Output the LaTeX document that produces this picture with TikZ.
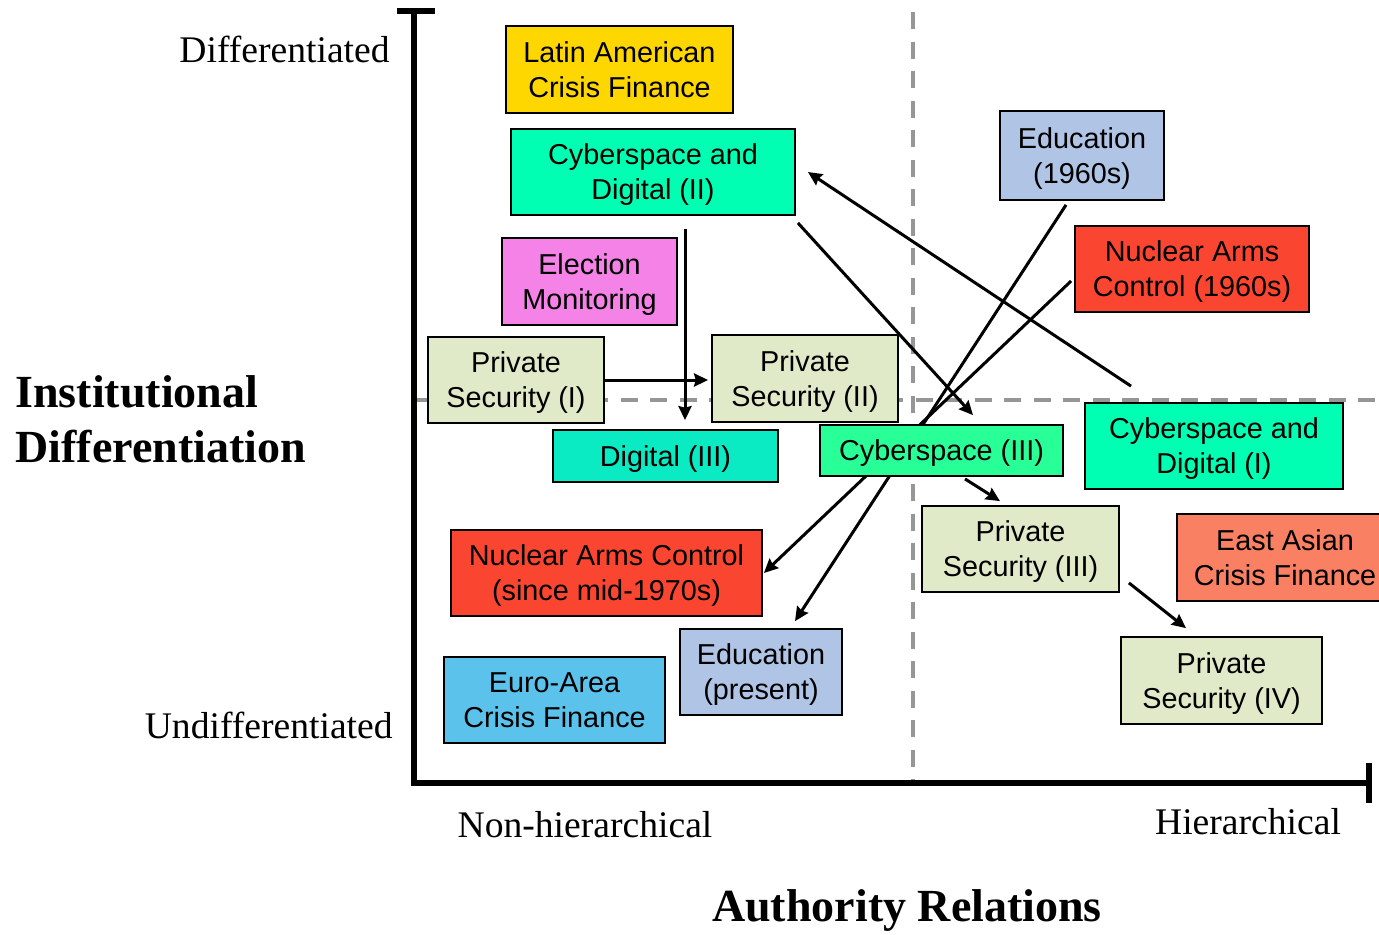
\documentclass[tikz,border=0pt]{standalone}
\usepackage{fontspec}
\setmainfont{Liberation Serif}
\newfontfamily\boxfont{Liberation Sans}
\usetikzlibrary{arrows.meta,calc,backgrounds}
\definecolor{cgold}{RGB}{255,215,0}
\definecolor{cspring}{RGB}{0,255,178}
\definecolor{cspringb}{RGB}{40,255,150}
\definecolor{cteal}{RGB}{10,235,195}
\definecolor{cpink}{RGB}{245,130,230}
\definecolor{cpale}{RGB}{224,233,200}
\definecolor{cblue}{RGB}{176,196,230}
\definecolor{cred}{RGB}{250,70,48}
\definecolor{csalmon}{RGB}{250,128,100}
\definecolor{csky}{RGB}{91,195,235}
\definecolor{cdash}{RGB}{150,150,150}
\begin{document}
\begin{tikzpicture}[x=0.5pt,y=-0.5pt,
  box/.style={draw=black, line width=0.9pt, inner sep=0pt, align=center, text depth=0pt,
    font=\boxfont\fontsize{14.4}{17.5}\selectfont},
  lbl/.style={inner sep=0pt, font=\fontsize{18.8}{22}\selectfont},
  ttl/.style={inner sep=0pt, align=left, font=\bfseries\fontsize{23}{27.5}\selectfont},
  axis/.style={line width=2.6pt, line cap=butt},
  guide/.style={draw=cdash, line width=2pt, dash pattern=on 8.5pt off 6.25pt},
  arr/.style={line width=1.5pt, -{Stealth[length=7pt,width=6.5pt,inset=0.8pt]}}]
\clip (0,0) rectangle (1379,934);
% guides
\begin{scope}[on background layer]
\draw[guide] (913,12) -- (913,780);
\draw[guide] (414,400) -- (1379,400);
\end{scope}
% axes
\draw[axis] (397,11) -- (435,11);
\draw[axis] (414,11) -- (414,783) -- (1369,783);
\draw[axis] (1369,763) -- (1369,803);
% labels
\node[lbl, anchor=east] (diff) at (390,49) {Differentiated};
\node[lbl, anchor=east] (undiff) at (393,725) {Undifferentiated};
\node[ttl, anchor=west] (ylab) at (15,419) {Institutional\\Differentiation};
\node[lbl] (nonh) at (585,825) {Non-hierarchical};
\node[lbl] (hier) at (1248,822) {Hierarchical};
\node[ttl] (xlab) at (907,910) {Authority Relations};
% boxes
\node[box, fill=cgold, minimum width=113.5pt, minimum height=43.5pt] (lacf) at (619.5,69.5) {Latin American\\Crisis Finance};
\node[box, fill=cspring, minimum width=142pt, minimum height=43pt] (cd2) at (653,172) {Cyberspace and\\Digital (II)};
\node[box, fill=cpink, minimum width=87.5pt, minimum height=43.5pt] (elec) at (589.5,281.5) {Election\\Monitoring};
\node[box, fill=cpale, minimum width=88pt, minimum height=43pt] (ps1) at (516,380) {Private\\Security (I)};
\node[box, fill=cpale, minimum width=93pt, minimum height=43.5pt] (ps2) at (805,378.5) {Private\\Security (II)};
\node[box, fill=cteal, minimum width=112.5pt, minimum height=26pt] (dig3) at (665.5,456) {Digital (III)};
\node[box, fill=cspringb, minimum width=121.5pt, minimum height=25.5pt] (cy3) at (941.5,450.5) {Cyberspace (III)};
\node[box, fill=cblue, minimum width=82pt, minimum height=44.5pt] (ed60) at (1082,155.5) {Education\\(1960s)};
\node[box, fill=cred, minimum width=117pt, minimum height=43pt] (nac60) at (1192,269) {Nuclear Arms\\Control (1960s)};
\node[box, fill=cspring, minimum width=129pt, minimum height=43pt] (cd1) at (1214,446) {Cyberspace and\\Digital (I)};
\node[box, fill=cpale, minimum width=98.5pt, minimum height=43pt] (ps3) at (1020.5,549) {Private\\Security (III)};
\node[box, fill=csalmon, minimum width=108pt, minimum height=43.5pt] (eacf) at (1285,557.5) {East Asian\\Crisis Finance};
\node[box, fill=cpale, minimum width=100.5pt, minimum height=43.5pt] (ps4) at (1221.5,680.5) {Private\\Security (IV)};
\node[box, fill=cred, minimum width=155.5pt, minimum height=43pt] (nac70) at (606.5,573) {Nuclear Arms Control\\(since mid-1970s)};
\node[box, fill=cblue, minimum width=81pt, minimum height=43pt] (edp) at (761,672) {Education\\(present)};
\node[box, fill=csky, minimum width=110.5pt, minimum height=43pt] (euro) at (554.5,700) {Euro-Area\\Crisis Finance};
% connectors
\begin{scope}[on background layer]
\draw[arr] ($(cd2.south)+(32,13)$) -- ($(dig3.north)+(19.5,-9)$);
\draw[arr] (ps1.east) -- ($(ps1.east -| ps2.west)+(-3,0)$);
\draw[arr] ($(cd2.south east)+(2,7)$) -- ($(cy3.north)+(31.5,-9)$);
\draw[arr] ($(cd1.north)+(-83,-16)$) -- ($(cd2.east)+(12,0)$);
\draw[arr] ($(ed60.south)+(-16,4)$) -- ($(edp.north)+(34,-7)$);
\draw[arr] ($(nac60.west)+(-3,12)$) -- ($(nac70.east)+(1,0)$);
\draw[arr] ($(cy3.south)+(23.5,2)$) -- ($(ps3.north)+(-20.5,-4)$);
\draw[arr] ($(ps3.south east)+(9,-10)$) -- ($(ps4.north)+(-35.5,-8)$);
\end{scope}
\end{tikzpicture}
\end{document}
